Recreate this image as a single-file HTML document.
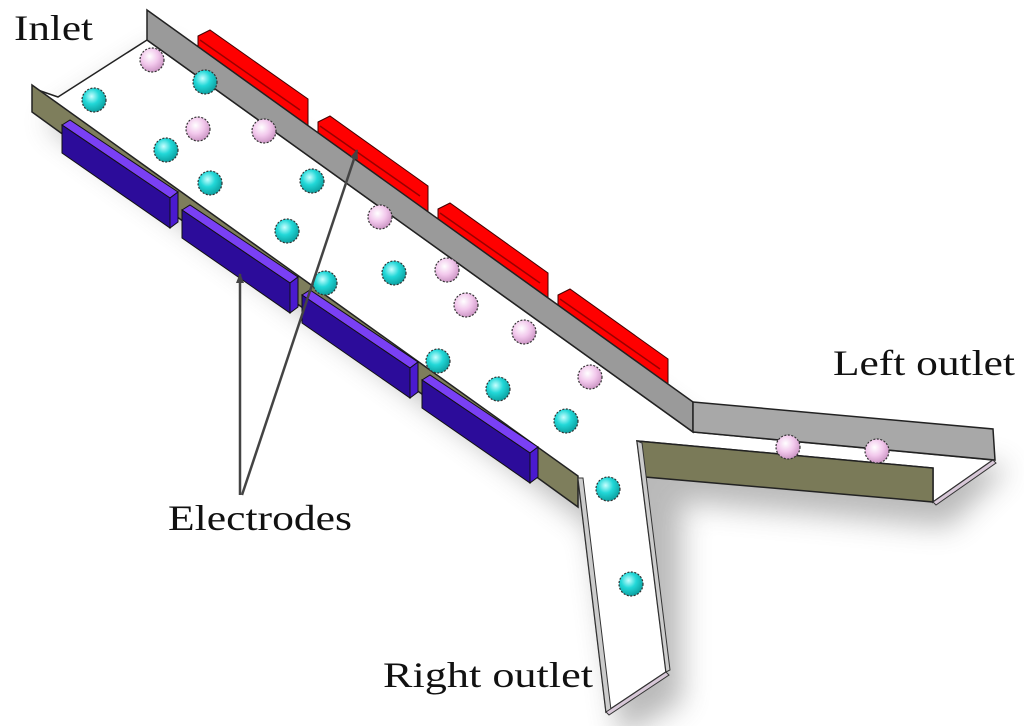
<!DOCTYPE html>
<html><head><meta charset="utf-8"><style>
html,body{margin:0;padding:0;background:#fff;}
svg{display:block;}
text{font-family:"Liberation Serif",serif;fill:#111;}
</style></head><body>
<svg width="1024" height="726" viewBox="0 0 1024 726" xmlns="http://www.w3.org/2000/svg">
<defs>
<filter id="sh" x="-20%" y="-20%" width="150%" height="150%">
<feGaussianBlur stdDeviation="14"/>
</filter>
<radialGradient id="cy" cx="0.4" cy="0.35" r="0.7">
<stop offset="0" stop-color="#c8ffff"/><stop offset="0.45" stop-color="#22d8d8"/><stop offset="1" stop-color="#0a9a9a"/>
</radialGradient>
<radialGradient id="pk" cx="0.4" cy="0.35" r="0.7">
<stop offset="0" stop-color="#ffffff"/><stop offset="0.5" stop-color="#f2c8ec"/><stop offset="1" stop-color="#c890c0"/>
</radialGradient>
<marker id="ah" markerWidth="10" markerHeight="10" refX="9" refY="5" orient="auto" markerUnits="userSpaceOnUse">
<path d="M0,1 L10,5 L0,9 z" fill="#444"/>
</marker>
</defs>

<g filter="url(#sh)" opacity="0.45" transform="translate(14,22)">
<polygon points="32,100 147,25 693,415 995,445 935,505 668,480 668,680 606,715 578,505" fill="#666"/>
</g>

<polygon points="58,97 147,40 693,432 993,460 933,502 933,468 637,441 666,672 606,712 578,478 32,88" fill="#fff" stroke="#222" stroke-width="1.5"/>

<!-- red electrodes (behind back wall) -->
<g stroke="#400" stroke-width="1">
<polygon points="198,36 210,30 308,99 308,130 198,52" fill="#ff0000"/>
<polygon points="318,122 330,116 428,186 428,215 318,138" fill="#ff0000"/>
<polygon points="438,209 450,203 548,273 548,302 438,224" fill="#ff0000"/>
<polygon points="558,295 570,289 668,359 668,388 558,310" fill="#ff0000"/>
</g>
<g stroke="#900" stroke-width="1.5">
<line x1="200" y1="40" x2="300" y2="110"/><line x1="320" y1="126" x2="420" y2="196"/>
<line x1="440" y1="213" x2="540" y2="283"/><line x1="560" y1="299" x2="660" y2="369"/>
</g>

<polygon points="147,10 693,402 693,432 147,40" fill="#9a9a9a" stroke="#222" stroke-width="1.5"/>
<polygon points="693,402 993,429 995,460 693,432" fill="#a8a8a8" stroke="#222" stroke-width="1.5"/>

<polygon points="32,85 578,476 578,507 32,112" fill="#7e7e5c" stroke="#222" stroke-width="1.5"/>
<polygon points="637,441 933,468 933,502 645,477" fill="#7a7a58" stroke="#222" stroke-width="1.5"/>
<polygon points="578,478 583,478 611,710 606,712" fill="#ccc" stroke="#333" stroke-width="1"/>
<polygon points="637,441 642,443 670,670 666,672" fill="#ccc" stroke="#333" stroke-width="1"/>
<polygon points="606,712 666,672 669,675 609,715" fill="#d8c8d8" stroke="#333" stroke-width="1"/>
<polygon points="933,502 993,460 996,463 936,505" fill="#d8c8d8" stroke="#333" stroke-width="1"/>

<g stroke="#111" stroke-width="1">
<g>
<polygon points="62,125 70,120 178,192 170,198" fill="#7a40f5"/>
<polygon points="62,125 170,198 170,228 62,153" fill="#2c0c9a"/>
<polygon points="170,198 178,192 178,222 170,228" fill="#4a1ad0"/>
</g>
<g transform="translate(120,85)">
<polygon points="62,125 70,120 178,192 170,198" fill="#7a40f5"/>
<polygon points="62,125 170,198 170,228 62,153" fill="#2c0c9a"/>
<polygon points="170,198 178,192 178,222 170,228" fill="#4a1ad0"/>
</g>
<g transform="translate(240,170)">
<polygon points="62,125 70,120 178,192 170,198" fill="#7a40f5"/>
<polygon points="62,125 170,198 170,228 62,153" fill="#2c0c9a"/>
<polygon points="170,198 178,192 178,222 170,228" fill="#4a1ad0"/>
</g>
<g transform="translate(360,255)">
<polygon points="62,125 70,120 178,192 170,198" fill="#7a40f5"/>
<polygon points="62,125 170,198 170,228 62,153" fill="#2c0c9a"/>
<polygon points="170,198 178,192 178,222 170,228" fill="#4a1ad0"/>
</g>
</g>

<g stroke="#333" stroke-width="1.2" stroke-dasharray="2,1.5">
<circle cx="152" cy="60" r="12" fill="url(#pk)"/>
<circle cx="198" cy="129" r="12" fill="url(#pk)"/>
<circle cx="264" cy="131" r="12" fill="url(#pk)"/>
<circle cx="380" cy="217" r="12" fill="url(#pk)"/>
<circle cx="447" cy="270" r="12" fill="url(#pk)"/>
<circle cx="466" cy="305" r="12" fill="url(#pk)"/>
<circle cx="524" cy="332" r="12" fill="url(#pk)"/>
<circle cx="590" cy="377" r="12" fill="url(#pk)"/>
<circle cx="788" cy="447" r="12" fill="url(#pk)"/>
<circle cx="877" cy="451" r="12" fill="url(#pk)"/>
<circle cx="94" cy="100" r="12" fill="url(#cy)"/>
<circle cx="205" cy="82" r="12" fill="url(#cy)"/>
<circle cx="166" cy="150" r="12" fill="url(#cy)"/>
<circle cx="210" cy="183" r="12" fill="url(#cy)"/>
<circle cx="312" cy="181" r="12" fill="url(#cy)"/>
<circle cx="287" cy="231" r="12" fill="url(#cy)"/>
<circle cx="325" cy="283" r="12" fill="url(#cy)"/>
<circle cx="394" cy="273" r="12" fill="url(#cy)"/>
<circle cx="438" cy="361" r="12" fill="url(#cy)"/>
<circle cx="498" cy="389" r="12" fill="url(#cy)"/>
<circle cx="566" cy="421" r="12" fill="url(#cy)"/>
<circle cx="608" cy="489" r="12" fill="url(#cy)"/>
<circle cx="631" cy="584" r="12" fill="url(#cy)"/>
</g>

<g stroke="#444" stroke-width="2.5" fill="none">
<line x1="240" y1="495" x2="240" y2="274" marker-end="url(#ah)"/>
<line x1="242" y1="495" x2="357" y2="150" marker-end="url(#ah)"/>
</g>

<text x="14" y="40" font-size="36" textLength="79" lengthAdjust="spacingAndGlyphs">Inlet</text>
<text x="833" y="375" font-size="36" textLength="182" lengthAdjust="spacingAndGlyphs">Left outlet</text>
<text x="168" y="530" font-size="36" textLength="184" lengthAdjust="spacingAndGlyphs">Electrodes</text>
<text x="383" y="687" font-size="36" textLength="210" lengthAdjust="spacingAndGlyphs">Right outlet</text>
</svg>
</body></html>
